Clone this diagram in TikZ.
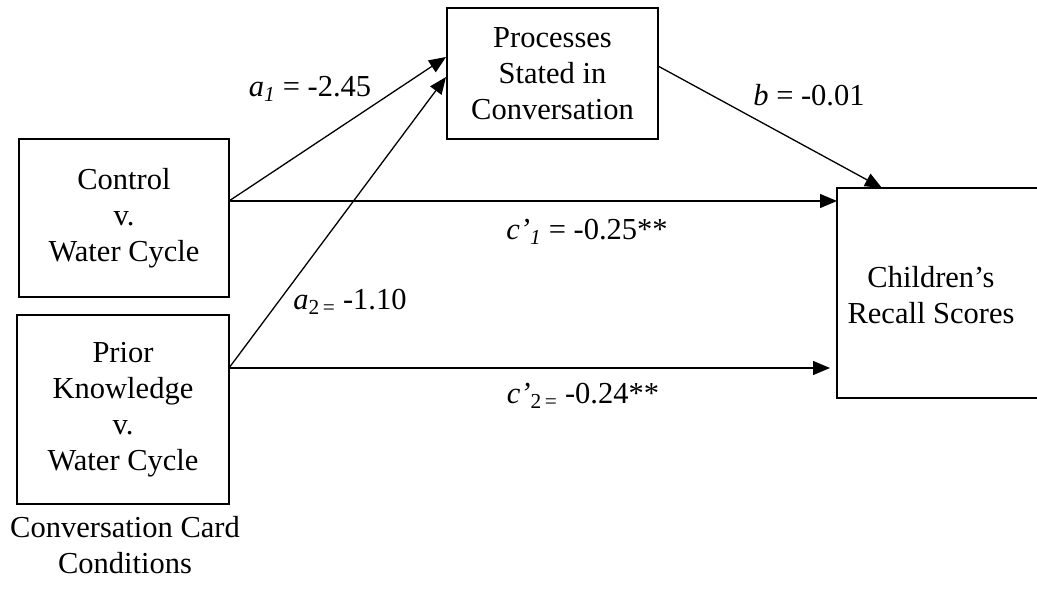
\documentclass[tikz,border=0pt]{standalone}
\usepackage{fontspec}
\setmainfont{Liberation Serif}
\usetikzlibrary{arrows.meta}
\begin{document}
\begin{tikzpicture}[x=1pt,y=-1pt,
  txt/.style={font=\fontsize{30.5}{36}\selectfont, inner sep=0pt, align=center},
  box/.style={txt, draw, line width=1.3pt},
  conn/.style={line width=1.3pt, -{Triangle[length=17pt,width=14pt]}}]
\useasboundingbox (0,0) rectangle (1037,594);
% boxes
\node[box, minimum width=211pt, minimum height=131pt] (proc) at (552.5,73.5) {Processes\\Stated in\\Conversation};
\node[box, minimum width=210pt, minimum height=158pt] (ctrl) at (124,218) {Control\\v.\\Water Cycle};
\node[box, minimum width=212pt, minimum height=189pt] (prior) at (123,409.5) {Prior\\Knowledge\\v.\\Water Cycle};
\node[draw, line width=1.3pt, minimum width=210pt, minimum height=210pt, inner sep=0pt] (rec) at (942,293) {};
\node[txt] (rectext) at (931,295) {Children’s\\Recall Scores};
\node[txt] (cap) at (125,545) {Conversation Card\\Conditions};
% connector endpoints
\coordinate (c1o) at (229,201);
\coordinate (c2o) at (229,368);
\coordinate (pin1) at (446,57);
\coordinate (pin2) at (446,77);
\coordinate (pout) at (658,66);
\coordinate (rin1) at (837,201);
\coordinate (rin2) at (830,368);
\coordinate (rtop) at (882,188);
% connectors
\draw[conn] (c1o) -- (pin1);
\draw[conn] (c2o) -- (pin2);
\draw[conn] (c1o) -- (rin1);
\draw[conn] (c2o) -- (rin2);
\draw[conn] (pout) -- (rtop);
% labels
\node[txt] (la1) at (310,89) {\textit{a}\textsubscript{\textit{1}} = -2.45};
\node[txt] (la2) at (350,302) {\textit{a}\textsubscript{2\,=} -1.10};
\node[txt] (lc1) at (587,232) {\textit{c’}\textsubscript{\textit{1}} = -0.25**};
\node[txt] (lc2) at (583,396) {\textit{c’}\textsubscript{2\,=} -0.24**};
\node[txt] (lb) at (809,95) {\textit{b} = -0.01};
\end{tikzpicture}
\end{document}
